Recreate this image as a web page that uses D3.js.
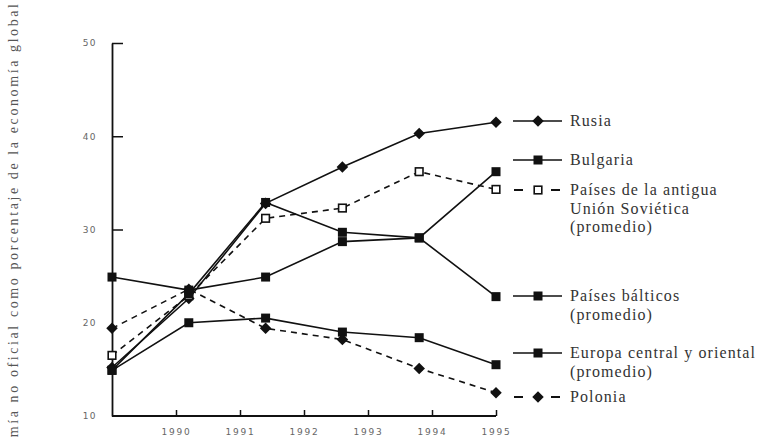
<!DOCTYPE html>
<html><head><meta charset="utf-8">
<script src="https://cdn.jsdelivr.net/npm/d3@7"></script>
<style>
html,body{margin:0;padding:0;background:#fff;}
svg{display:block;}
</style></head>
<body>
<svg id="chart" width="769" height="439"></svg>
<script>
// ---- data ----
const xYears = [1989, 1990.2, 1991.4, 1992.6, 1993.8, 1995]; // plotted positions of the six observations
const tickYears = [1990, 1991, 1992, 1993, 1994, 1995];
const yTicks = [10, 20, 30, 40, 50];
const rusia    = [15.2, 22.6, 32.8, 36.7, 40.3, 41.5];
const bulgaria = [24.9, 23.5, 24.9, 28.7, 29.1, 36.2];
const exURSS   = [16.5, 22.9, 31.2, 32.3, 36.2, 34.3];
const balticos = [14.9, 23.1, 32.9, 29.7, 29.1, 22.8];
const europa   = [14.9, 20.0, 20.5, 19.0, 18.4, 15.5];
const polonia  = [19.4, 23.6, 19.4, 18.2, 15.1, 12.5];
const seriesNames = ["Rusia", "Bulgaria", "Países de la antigua|Unión Soviética|(promedio)",
  "Países bálticos|(promedio)", "Europa central y oriental|(promedio)", "Polonia"];
const yTitle = "Economía no oficial como porcentaje de la economía global";

const series = [
  {name: seriesNames[0], values: rusia,    marker: "diamond", dashed: false, legendY: 121},
  {name: seriesNames[1], values: bulgaria, marker: "square",  dashed: false, legendY: 160},
  {name: seriesNames[2], values: exURSS,   marker: "open",    dashed: true,  legendY: 190},
  {name: seriesNames[3], values: balticos, marker: "square",  dashed: false, legendY: 296},
  {name: seriesNames[4], values: europa,   marker: "square",  dashed: false, legendY: 353},
  {name: seriesNames[5], values: polonia,  marker: "diamond", dashed: true,  legendY: 397}
];

const serif = "'Liberation Serif', 'Times New Roman', 'DejaVu Serif', serif";
const svg = d3.select("#chart");
const x = d3.scaleLinear().domain([1989, 1995]).range([112, 496]);
const y = d3.scaleLinear().domain([10, 50]).range([416, 43]);
const ink = "#111";

// axes
const xAxis = d3.axisBottom(x).tickValues(tickYears).tickFormat(d3.format("d")).tickSize(-6).tickSizeOuter(0);
const gx = svg.append("g").attr("transform", `translate(0,${y(10)})`).call(xAxis);
gx.select(".domain").attr("d", `M${x(1989)},0H${x(1995)}`).attr("stroke", ink).attr("stroke-width", 1.8);
gx.selectAll(".tick line").attr("stroke", ink).attr("stroke-width", 1.5);
gx.selectAll(".tick text").attr("dy", "1.8em").attr("fill", "#666")
  .style("font-family", "'DejaVu Sans', sans-serif").style("font-size", "9px").style("letter-spacing", "1.8px");

const yAxis = d3.axisLeft(y).tickValues(yTicks).tickSize(-11).tickSizeOuter(0).tickPadding(15);
const gy = svg.append("g").attr("transform", `translate(${x(1989)},0)`).call(yAxis);
gy.select(".domain").attr("stroke", ink).attr("stroke-width", 1.8);
gy.selectAll(".tick line").attr("stroke", ink).attr("stroke-width", 1.5)
  .filter(d => d === 10 || d === 20).remove();
gy.selectAll(".tick text").attr("fill", "#666")
  .style("font-family", "'DejaVu Sans', sans-serif").style("font-size", "9px").style("letter-spacing", "1.4px");

// y title
svg.append("text")
  .attr("transform", `translate(18,4) rotate(-90)`)
  .attr("text-anchor", "end")
  .attr("fill", "#555")
  .attr("textLength", 482).attr("lengthAdjust", "spacing")
  .style("font-family", serif).style("font-size", "14px")
  .text(yTitle);

// markers
function drawMarker(g, type, cx, cy) {
  if (type === "diamond") {
    g.append("path").attr("d", d3.symbol(d3.symbolDiamond2, 85)())
      .attr("transform", `translate(${cx},${cy})`).attr("fill", ink);
  } else if (type === "square") {
    g.append("rect").attr("x", cx - 4.5).attr("y", cy - 4.5).attr("width", 9).attr("height", 9).attr("fill", ink);
  } else {
    g.append("rect").attr("x", cx - 3.8).attr("y", cy - 3.8).attr("width", 7.6).attr("height", 7.6)
      .attr("fill", "#fff").attr("stroke", ink).attr("stroke-width", 1.6);
  }
}

const line = d3.line().x((d, i) => x(xYears[i])).y(d => y(d));
const plot = svg.append("g");
series.forEach(s => {
  plot.append("path").datum(s.values).attr("d", line).attr("fill", "none")
    .attr("stroke", ink).attr("stroke-width", 1.6)
    .attr("stroke-dasharray", s.dashed ? "6,5" : null);
});
series.forEach(s => {
  s.values.forEach((v, i) => drawMarker(plot, s.marker, x(xYears[i]), y(v)));
});

// legend
const lg = svg.append("g");
series.forEach(s => {
  const ly = s.legendY;
  if (s.dashed) {
    lg.append("line").attr("x1", 514).attr("x2", 523).attr("y1", ly).attr("y2", ly).attr("stroke", ink).attr("stroke-width", 2);
    lg.append("line").attr("x1", 551).attr("x2", 560).attr("y1", ly).attr("y2", ly).attr("stroke", ink).attr("stroke-width", 2);
  } else {
    lg.append("line").attr("x1", 513).attr("x2", 562).attr("y1", ly).attr("y2", ly).attr("stroke", ink).attr("stroke-width", 1.6);
  }
  drawMarker(lg, s.marker, 538, ly);
  const t = lg.append("text").attr("x", 570).attr("y", ly + 5).attr("fill", "#333")
    .style("font-family", serif).style("font-size", "16px").style("letter-spacing", "1.1px");
  s.name.split("|").forEach((part, k) => {
    t.append("tspan").attr("x", 570).attr("dy", k === 0 ? 0 : 18.5).text(part);
  });
});
</script>
</body></html>
